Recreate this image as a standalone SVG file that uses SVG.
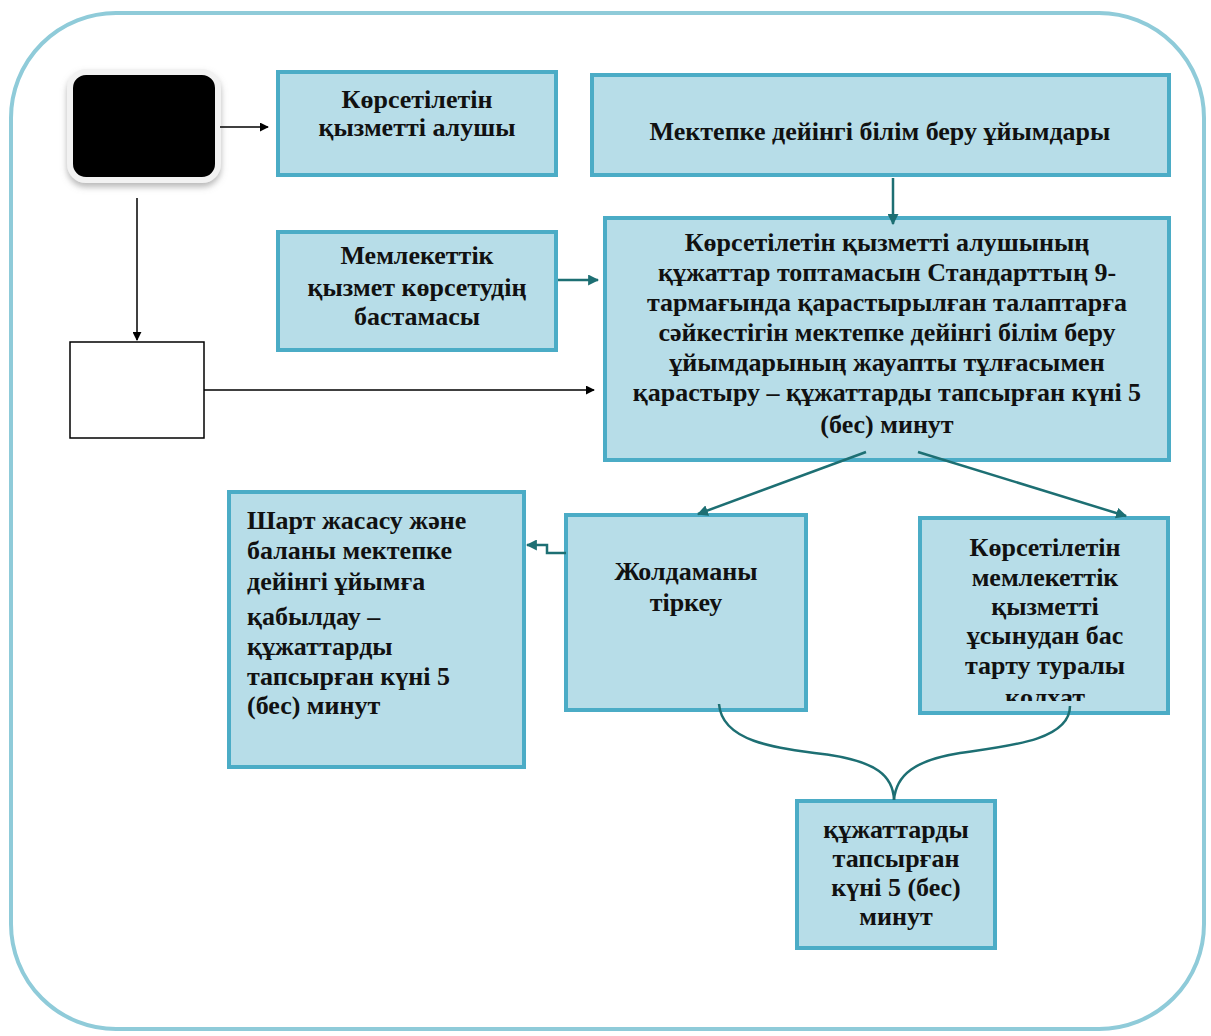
<svg xmlns="http://www.w3.org/2000/svg" width="1211" height="1036" viewBox="0 0 1211 1036">
<style>
.box{fill:#b7dde8;stroke:#4bacc6;stroke-width:4}
.t{font-family:"Liberation Serif","Times New Roman",serif;font-weight:bold;font-size:26px;fill:#111}
.c{text-anchor:middle}
.k{stroke:#000;stroke-width:1.5;fill:none}
.g{stroke:#1d6f73;stroke-width:2.5;fill:none}
</style>
<defs>
<marker id="ab" viewBox="0 0 10 10" refX="9" refY="5" markerWidth="9" markerHeight="9" markerUnits="userSpaceOnUse" orient="auto"><path d="M0,0 L10,5 L0,10 z" fill="#000"/></marker>
<marker id="ag" viewBox="0 0 10 10" refX="9" refY="5" markerWidth="11" markerHeight="11" markerUnits="userSpaceOnUse" orient="auto"><path d="M0,0 L10,5 L0,10 z" fill="#1d6f73"/></marker>
<clipPath id="clipR"><rect x="920" y="518" width="250" height="183"/></clipPath>
<filter id="sh" x="-20%" y="-20%" width="140%" height="150%"><feDropShadow dx="0" dy="4" stdDeviation="3" flood-color="#888" flood-opacity="0.6"/></filter>
</defs>
<rect x="0" y="0" width="1211" height="1036" fill="#fff"/>
<rect id="frame" x="11" y="13" width="1193" height="1016" rx="105" ry="105" fill="none" stroke="#8fcbd9" stroke-width="4"/>

<g id="start"><rect x="70" y="72" width="148" height="108" rx="16" ry="16" fill="#000" stroke="#f2f2f2" stroke-width="6" filter="url(#sh)"/></g>
<g id="recipient"><rect class="box" x="278" y="72" width="278" height="103"/><text class="t c" x="417" y="108">Көрсетілетін</text><text class="t c" x="417" y="136">қызметті алушы</text></g>
<g id="orgs"><rect class="box" x="592" y="75" width="577" height="100"/><text class="t c" x="880" y="140">Мектепке дейінгі білім беру ұйымдары</text></g>
<g id="blank"><rect x="70" y="342" width="134" height="96" fill="#fff" stroke="#000" stroke-width="1.5"/></g>
<g id="begin"><rect class="box" x="278" y="232" width="278" height="118"/><text class="t c" x="417" y="264">Мемлекеттік</text><text class="t c" x="417" y="296">қызмет көрсетудің</text><text class="t c" x="417" y="325">бастамасы</text></g>
<g id="review"><rect class="box" x="605" y="218" width="564" height="242"/>
<text class="t c" x="887" y="251">Көрсетілетін қызметті алушының</text>
<text class="t c" x="887" y="281">құжаттар топтамасын Стандарттың 9-</text>
<text class="t c" x="887" y="311">тармағында қарастырылған талаптарға</text>
<text class="t c" x="887" y="341">сәйкестігін мектепке дейінгі білім беру</text>
<text class="t c" x="887" y="371">ұйымдарының жауапты тұлғасымен</text>
<text class="t c" x="887" y="401">қарастыру – құжаттарды тапсырған күні 5</text>
<text class="t c" x="887" y="433">(бес) минут</text></g>
<g id="contract"><rect class="box" x="229" y="492" width="295" height="275"/>
<text class="t" x="247" y="529">Шарт жасасу және</text>
<text class="t" x="247" y="559">баланы мектепке</text>
<text class="t" x="247" y="590">дейінгі ұйымға</text>
<text class="t" x="247" y="625">қабылдау –</text>
<text class="t" x="247" y="655">құжаттарды</text>
<text class="t" x="247" y="685">тапсырған күні 5</text>
<text class="t" x="247" y="714">(бес) минут</text></g>
<g id="register"><rect class="box" x="566" y="515" width="240" height="195"/><text class="t c" x="686" y="580">Жолдаманы</text><text class="t c" x="686" y="611">тіркеу</text></g>
<g id="refusal"><rect class="box" x="920" y="518" width="248" height="195"/>
<g clip-path="url(#clipR)">
<text class="t c" x="1045" y="556">Көрсетілетін</text>
<text class="t c" x="1045" y="586">мемлекеттік</text>
<text class="t c" x="1045" y="615">қызметті</text>
<text class="t c" x="1045" y="644">ұсынудан бас</text>
<text class="t c" x="1045" y="674">тарту туралы</text>
<text class="t c" x="1045" y="706">қолхат</text></g></g>
<g id="time"><rect class="box" x="797" y="801" width="198" height="147"/>
<text class="t c" x="896" y="838">құжаттарды</text>
<text class="t c" x="896" y="867">тапсырған</text>
<text class="t c" x="896" y="896">күні 5 (бес)</text>
<text class="t c" x="896" y="925">минут</text></g>

<g id="connectors">
<line class="k" x1="220" y1="127" x2="268" y2="127" marker-end="url(#ab)"/>
<line class="k" x1="137" y1="198" x2="137" y2="340" marker-end="url(#ab)"/>
<line class="k" x1="204" y1="390" x2="594" y2="390" marker-end="url(#ab)"/>
<line class="g" x1="558" y1="280" x2="598" y2="280" marker-end="url(#ag)"/>
<line class="g" x1="893" y1="178" x2="893" y2="224" marker-end="url(#ag)"/>
<line class="g" x1="866" y1="452" x2="698" y2="514" marker-end="url(#ag)"/>
<line class="g" x1="918" y1="452" x2="1126" y2="516" marker-end="url(#ag)"/>
<path class="g" d="M566,553 H547 V545 H527" marker-end="url(#ag)"/>
<path class="g" stroke-width="3" d="M719,704 C722,742 775,748 830,755 C875,762 893,775 894,800"/>
<path class="g" stroke-width="3" d="M1070,706 C1070,740 1010,746 960,753 C915,760 896,775 894,800"/>
</g>
</svg>
